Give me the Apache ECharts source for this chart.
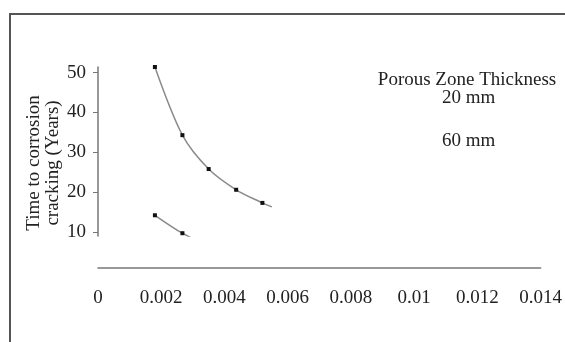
<!DOCTYPE html>
<html>
<head>
<meta charset="utf-8">
<script src="https://cdn.jsdelivr.net/npm/echarts@6/dist/echarts.min.js"></script>
<style>
  html, body { margin: 0; padding: 0; background: #fff; }
  #main { width: 565px; height: 342px; }
</style>
</head>
<body>
<div id="main"></div>
<script>
// values (x = thickness ratio, y = years)
const seriesNames = ['20 mm', '60 mm'];
const x20 = [0.0018, 0.00267, 0.0035, 0.00437, 0.0052, 0.0055];
const y20 = [51.4, 34.3, 25.8, 20.6, 17.3, 16.3];
const x60 = [0.0018, 0.00267, 0.0035];
const y60 = [14.2, 9.7, 6.5];
const xTicks = [0, 0.002, 0.004, 0.006, 0.008, 0.01, 0.012, 0.014];
const yTicks = [10, 20, 30, 40, 50];

const font = '"Liberation Serif", "DejaVu Serif", serif';

function pairs(xs, ys, plainFrom) {
  return xs.map((x, i) => {
    const item = { value: [x, ys[i]] };
    if (plainFrom != null && i >= plainFrom) item.symbol = 'none';
    return item;
  });
}

window.onload = function () {
  const myChart = echarts.init(document.getElementById('main'));
  const lineSeries = (name, data) => ({
    name: name,
    type: 'line',
    smooth: 0.3,
    clip: true,
    symbol: 'rect',
    symbolSize: 4,
    itemStyle: { color: '#111' },
    lineStyle: { color: '#8a8a8a', width: 1.5 },
    emphasis: { disabled: true },
    data: data
  });
  let option = {
    animation: false,
    backgroundColor: '#fff',
    textStyle: { fontFamily: font },
    title: {
      text: 'Porous Zone Thickness',
      left: 462,
      top: 66,
      textAlign: 'center',
      textStyle: { fontFamily: font, fontSize: 19, fontWeight: 'normal', color: '#222' }
    },
    legend: {
      orient: 'vertical',
      left: 432,
      top: 84,
      itemGap: 24,
      itemWidth: 0,
      itemHeight: 0,
      icon: 'none',
      selectedMode: false,
      textStyle: { fontFamily: font, fontSize: 19, color: '#222' },
      data: seriesNames
    },
    grid: {
      left: 98,
      right: 20,
      top: 67,
      bottom: 106
    },
    xAxis: {
      type: 'value',
      min: 0,
      max: 0.014,
      interval: 0.002,
      offset: 32,
      axisLine: { show: true, lineStyle: { color: '#777', width: 1.5 } },
      axisTick: { show: false },
      splitLine: { show: false },
      axisLabel: {
        margin: 21,
        fontFamily: font,
        fontSize: 19,
        color: '#222',
        customValues: xTicks,
        formatter: v => String(+v.toFixed(3))
      }
    },
    yAxis: {
      type: 'value',
      min: 9,
      max: 51.4,
      name: 'Time to corrosion\ncracking (Years)',
      nameLocation: 'middle',
      nameRotate: 90,
      nameGap: 35,
      nameMoveOverlap: false,
      nameTextStyle: {
        fontFamily: font,
        fontSize: 19,
        lineHeight: 19,
        color: '#222',
        padding: [0, 23, 0, 0]
      },
      axisLine: { show: true, lineStyle: { color: '#777', width: 1.5 } },
      axisTick: { show: true, length: 5, customValues: yTicks, lineStyle: { color: '#777' } },
      splitLine: { show: false },
      axisLabel: {
        margin: 12,
        fontFamily: font,
        fontSize: 19,
        color: '#222',
        customValues: yTicks
      }
    },
    graphic: [
      {
        type: 'polyline',
        shape: { points: [[10, 342], [10, 14], [565, 14]] },
        style: { stroke: '#555', lineWidth: 2, fill: null },
        silent: true
      }
    ],
    series: [
      lineSeries(seriesNames[0], pairs(x20, y20, 5)),
      lineSeries(seriesNames[1], pairs(x60, y60, 2))
    ]
  };
  myChart.setOption(option, true);
};
</script>
</body>
</html>
